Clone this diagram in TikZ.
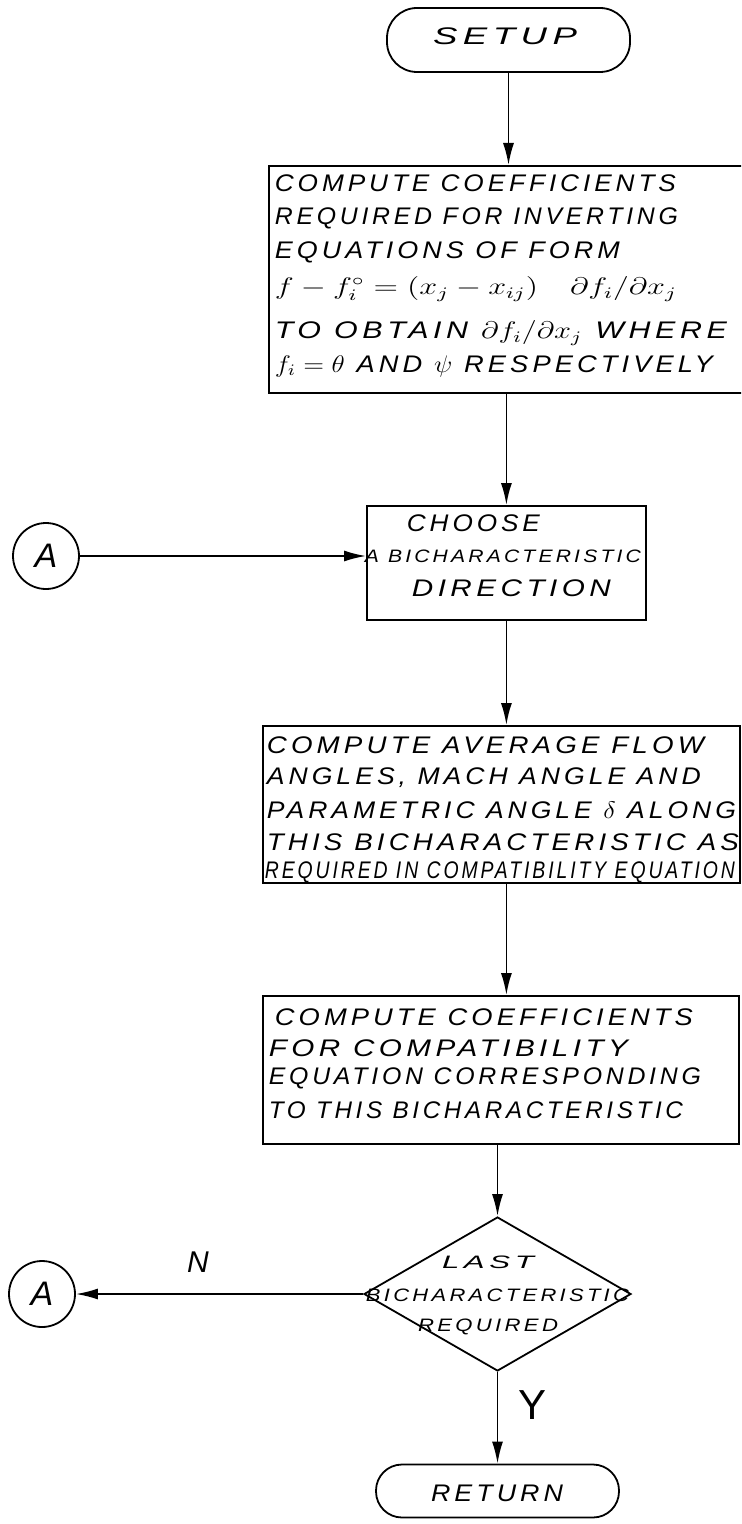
\documentclass[tikz,border=0pt]{standalone}
\usepackage{fontspec}
\usepackage{graphicx}
\usetikzlibrary{arrows.meta,shapes.geometric}
\newfontfamily\hand[LetterSpace=15]{Liberation Sans}
\newcommand\fw[2]{\resizebox{#1}{\height}{#2}}
\begin{document}
\begin{tikzpicture}[x=0.5pt,y=-0.5pt,
  line width=0.9pt,
  box/.style={draw, rectangle, inner sep=0, anchor=north west},
  term/.style={draw, rectangle, rounded corners=14pt, inner sep=0},
  conn/.style={draw, circle, inner sep=0, minimum size=33pt, font=\hand\itshape\fontsize{17}{19}\selectfont},
  txt/.style={inner sep=0, anchor=west, font=\hand\itshape\fontsize{12}{14}\selectfont},
  ctxt/.style={inner sep=0, font=\hand\itshape\fontsize{12}{14}\selectfont},
  small/.style={font=\hand\itshape\fontsize{9}{11}\selectfont},
  arr/.style={-{Latex[length=11pt,width=5.5pt]}},
]
\useasboundingbox (0,0) rectangle (741,1524);
\clip (0,0) rectangle (741,1524);

% terminals
\node[term, minimum width=121.5pt, minimum height=32pt, rounded corners=15pt] (setup) at (508.5,40) {};
\node[ctxt] (setupt) at (505,36) {\fw{72pt}{SETUP}};

% box 1
\node[box, minimum width=246pt, minimum height=113.5pt] (b1) at (268,165) {};
\node[txt] (t11) at (274,183) {\fw{200.5pt}{COMPUTE COEFFICIENTS}};
\node[txt] (t12) at (274,218) {\fw{201.5pt}{REQUIRED FOR INVERTING}};
\node[txt] (t13) at (274,252) {\fw{172.5pt}{EQUATIONS OF FORM}};
\node[txt] (t14) at (274,289) {\fw{201pt}{$f-f_i^{\circ}=(x_j-x_{ij})\quad \partial f_i/\partial x_j$}};
\node[txt] (t15) at (274,333) {\fw{226pt}{TO OBTAIN $\partial f_i/\partial x_j$ WHERE}};
\node[txt] (t16) at (274,366) {\fw{219pt}{$f_i=\theta$ AND $\psi$ RESPECTIVELY}};

% box 2
\node[box, minimum width=139.5pt, minimum height=57pt] (b2) at (366,505) {};
\node[txt] (t21) at (406,523) {\fw{66.5pt}{CHOOSE}};
\node[txt, small] (t22) at (364,556) {\fw{138pt}{A BICHARACTERISTIC}};
\node[txt] (t23) at (411,588) {\fw{99.5pt}{DIRECTION}};

% box 3
\node[box, minimum width=238.5pt, minimum height=78.5pt] (b3) at (262,725) {};
\node[txt] (t31) at (266,745) {\fw{218.5pt}{COMPUTE AVERAGE FLOW}};
\node[txt] (t32) at (266,778) {\fw{217pt}{ANGLES, MACH ANGLE AND}};
\node[txt] (t33) at (266,810) {\fw{234.5pt}{PARAMETRIC ANGLE $\delta$ ALONG}};
\node[txt] (t34) at (266,842) {\fw{236pt}{THIS BICHARACTERISTIC AS}};
\node[txt] (t35) at (264,872) {\fw{235pt}{REQUIRED IN COMPATIBILITY EQUATION}};

% box 4
\node[box, minimum width=238pt, minimum height=74pt] (b4) at (262,995) {};
\node[txt] (t41) at (274,1017) {\fw{209pt}{COMPUTE COEFFICIENTS}};
\node[txt] (t42) at (268,1048) {\fw{179.5pt}{FOR COMPATIBILITY}};
\node[txt] (t43) at (268,1078) {\fw{216pt}{EQUATION CORRESPONDING}};
\node[txt] (t44) at (268,1110) {\fw{207pt}{TO THIS BICHARACTERISTIC}};

% decision
\node[draw, diamond, inner sep=0, minimum width=133.5pt, minimum height=77pt] (dia) at (497.5,1294) {};
\node[ctxt, small] (d1) at (488,1262) {\fw{46pt}{LAST}};
\node[ctxt, small] (d2) at (497.5,1295) {\fw{131.5pt}{BICHARACTERISTIC}};
\node[ctxt, small] (d3) at (488,1327) {\fw{70pt}{REQUIRED}};

% return
\node[term, minimum width=121.5pt, minimum height=26.5pt, rounded corners=13pt] (ret) at (497.5,1491) {};
\node[ctxt] (rett) at (497,1493) {\fw{66pt}{RETURN}};

% connectors A
\node[conn] (a1) at (46,556) {A};
\node[conn] (a2) at (42,1294) {A};

% labels
\node[inner sep=0, font=\hand\itshape\fontsize{15}{17}\selectfont] (ln) at (198,1262) {N};
\node[inner sep=0, font=\hand\fontsize{21}{23}\selectfont] (ly) at (532,1405) {Y};

% arrows
\draw[arr] (setup.south) -- (setup.south |- b1.north);
\draw[arr] (b2.north |- b1.south) -- (b2.north);
\draw[arr] (a1.east) -- (a1.east -| b2.west);
\draw[arr] (b2.south) -- (b2.south |- b3.north);
\draw[arr] (b3.south -| b2.south) -- (b4.north -| b2.south);
\draw[arr] (dia.north |- b4.south) -- (dia.north);
\draw[arr] (dia.west) -- (dia.west -| a2.east);
\draw[arr] (dia.south) -- (ret.north);
\end{tikzpicture}
\end{document}
